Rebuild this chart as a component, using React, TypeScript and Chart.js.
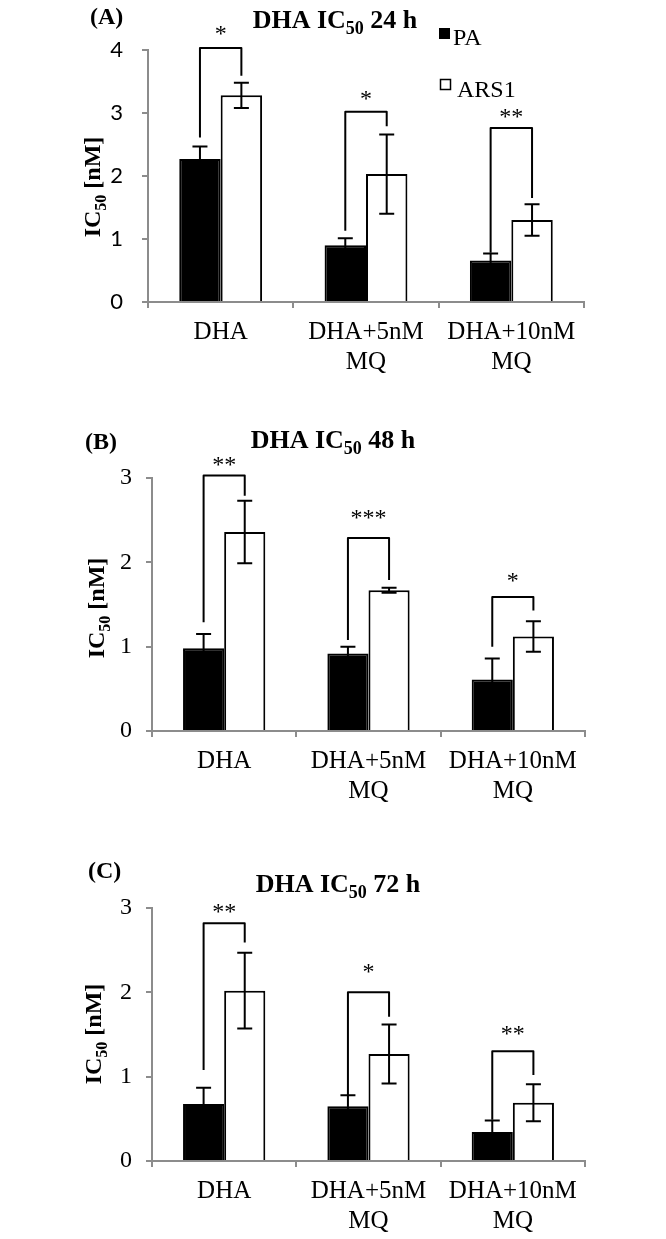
import React, { useEffect, useRef } from "react";
import { Chart, registerables } from "chart.js";
Chart.register(...registerables);

// ---------- data ----------
const CATEGORIES: (string | string[])[] = ["DHA", ["DHA+5nM", "MQ"], ["DHA+10nM", "MQ"]];
const SERIES_NAMES = ["PA", "ARS1"];

// Panel A — 24 h
const A_PA = [2.27, 0.9, 0.66];
const A_PA_ERR = [0.2, 0.11, 0.11];
const A_ARS1 = [3.28, 2.03, 1.3];
const A_ARS1_ERR = [0.2, 0.63, 0.25];
const A_BRACKET_TOP = [4.03, 3.02, 2.76];
const A_BRACKET_LEFT = [2.61, 1.13, 0.78];
const A_BRACKET_RIGHT = [3.59, 2.79, 1.65];
const A_STARS = ["*", "*", "**"];
const A_STAR_AT = [4.32, 3.29, 3.0];

// Panel B — 48 h
const B_PA = [0.98, 0.92, 0.61];
const B_PA_ERR = [0.17, 0.08, 0.25];
const B_ARS1 = [2.36, 1.67, 1.12];
const B_ARS1_ERR = [0.37, 0.03, 0.18];
const B_BRACKET_TOP = [3.03, 2.29, 1.59];
const B_BRACKET_LEFT = [1.29, 1.08, 1.0];
const B_BRACKET_RIGHT = [2.79, 1.79, 1.43];
const B_STARS = ["**", "***", "*"];
const B_STAR_AT = [3.2, 2.57, 1.83];

// Panel C — 72 h
const C_PA = [0.675, 0.65, 0.345];
const C_PA_ERR = [0.195, 0.13, 0.135];
const C_ARS1 = [2.02, 1.27, 0.69];
const C_ARS1_ERR = [0.45, 0.35, 0.22];
const C_BRACKET_TOP = [2.82, 2.0, 1.3];
const C_BRACKET_LEFT = [1.08, 0.77, 0.49];
const C_BRACKET_RIGHT = [2.59, 1.71, 1.02];
const C_STARS = ["**", "*", "**"];
const C_STAR_AT = [3.0, 2.29, 1.55];

const Y_MAX_A = 4;
const Y_MAX_BC = 3;

// ---------- layout / style ----------
const SERIF = '"Liberation Serif", "Times New Roman", serif';
const AXIS_GRAY = "#8c8c8c";

type PanelCfg = {
  letter: string;
  hours: string;
  top: number;
  height: number;
  area: { left: number; top: number; right: number; bottom: number };
  yMax: number;
  tickFont: { family: string; size: number };
  tickPad: number;
  letterPos: { x: number; base: number };
  titlePos: { cx: number; base: number };
  ylabelPos: { cx: number; cy: number };
  legend: boolean;
  pa: number[];
  paErr: number[];
  ars: number[];
  arsErr: number[];
  brTop: number[];
  brLeft: number[];
  brRight: number[];
  stars: string[];
  starAt: number[];
};

const PANELS: PanelCfg[] = [
  {
    letter: "(A)", hours: "24 h", top: 0, height: 385,
    area: { left: 148, top: 50, right: 584, bottom: 302 },
    yMax: Y_MAX_A, tickFont: { family: "Lato", size: 22 }, tickPad: 19,
    letterPos: { x: 90, base: 24 }, titlePos: { cx: 335, base: 28 }, ylabelPos: { cx: 92, cy: 187 },
    legend: true,
    pa: A_PA, paErr: A_PA_ERR, ars: A_ARS1, arsErr: A_ARS1_ERR,
    brTop: A_BRACKET_TOP, brLeft: A_BRACKET_LEFT, brRight: A_BRACKET_RIGHT, stars: A_STARS, starAt: A_STAR_AT,
  },
  {
    letter: "(B)", hours: "48 h", top: 420, height: 390,
    area: { left: 152, top: 58, right: 585, bottom: 311 },
    yMax: Y_MAX_BC, tickFont: { family: SERIF, size: 24 }, tickPad: 14,
    letterPos: { x: 85, base: 29 }, titlePos: { cx: 333, base: 28 }, ylabelPos: { cx: 96, cy: 188 },
    legend: false,
    pa: B_PA, paErr: B_PA_ERR, ars: B_ARS1, arsErr: B_ARS1_ERR,
    brTop: B_BRACKET_TOP, brLeft: B_BRACKET_LEFT, brRight: B_BRACKET_RIGHT, stars: B_STARS, starAt: B_STAR_AT,
  },
  {
    letter: "(C)", hours: "72 h", top: 850, height: 389,
    area: { left: 152, top: 58, right: 585, bottom: 311 },
    yMax: Y_MAX_BC, tickFont: { family: SERIF, size: 24 }, tickPad: 14,
    letterPos: { x: 88, base: 28 }, titlePos: { cx: 338, base: 42 }, ylabelPos: { cx: 93, cy: 184 },
    legend: false,
    pa: C_PA, paErr: C_PA_ERR, ars: C_ARS1, arsErr: C_ARS1_ERR,
    brTop: C_BRACKET_TOP, brLeft: C_BRACKET_LEFT, brRight: C_BRACKET_RIGHT, stars: C_STARS, starAt: C_STAR_AT,
  },
];

function drawRich(ctx: CanvasRenderingContext2D, parts: [string, boolean][], cx: number, base: number, size: number, bold: boolean) {
  const main = `${bold ? "bold " : ""}${size}px ${SERIF}`;
  const subSize = Math.round(size * 0.68);
  const sub = `${bold ? "bold " : ""}${subSize}px ${SERIF}`;
  const widths = parts.map(([t, s]) => {
    ctx.font = s ? sub : main;
    return ctx.measureText(t).width;
  });
  const total = widths.reduce((a, b) => a + b, 0);
  let x = cx - total / 2;
  ctx.textAlign = "left";
  ctx.textBaseline = "alphabetic";
  parts.forEach(([t, s], i) => {
    ctx.font = s ? sub : main;
    ctx.fillText(t, x, base + (s ? size * 0.24 : 0));
    x += widths[i];
  });
}

function Panel({ cfg }: { cfg: PanelCfg }) {
  const ref = useRef<HTMLCanvasElement | null>(null);
  useEffect(() => {
    if (!ref.current) return;
    const W = 666;
    const H = cfg.height;
    const overlay = {
      id: "overlay",
      afterDatasetsDraw(chart: any) {
        const ctx: CanvasRenderingContext2D = chart.ctx;
        const ys = chart.scales.y;
        const m0 = chart.getDatasetMeta(0);
        const m1 = chart.getDatasetMeta(1);
        ctx.save();
        ctx.strokeStyle = "#000";
        ctx.lineWidth = 2;
        ctx.lineCap = "butt";
        const cap = 15;
        const series: [any, number[], number[]][] = [
          [m0, cfg.pa, cfg.paErr],
          [m1, cfg.ars, cfg.arsErr],
        ];
        series.forEach(([m, vals, errs]) => {
          vals.forEach((v, i) => {
            const bx = m.data[i].x;
            const yt = ys.getPixelForValue(v + errs[i]);
            const yb = ys.getPixelForValue(v - errs[i]);
            ctx.beginPath();
            ctx.moveTo(bx, yt);
            ctx.lineTo(bx, yb);
            ctx.moveTo(bx - cap / 2, yt);
            ctx.lineTo(bx + cap / 2, yt);
            ctx.moveTo(bx - cap / 2, yb);
            ctx.lineTo(bx + cap / 2, yb);
            ctx.stroke();
          });
        });
        // significance brackets
        ctx.lineJoin = "round";
        cfg.brTop.forEach((t, i) => {
          const xl = m0.data[i].x;
          const xr = m1.data[i].x;
          const yt = ys.getPixelForValue(t);
          ctx.beginPath();
          ctx.moveTo(xl, ys.getPixelForValue(cfg.brLeft[i]));
          ctx.lineTo(xl, yt);
          ctx.lineTo(xr, yt);
          ctx.lineTo(xr, ys.getPixelForValue(cfg.brRight[i]));
          ctx.stroke();
          ctx.fillStyle = "#000";
          ctx.font = `24px ${SERIF}`;
          ctx.textAlign = "center";
          ctx.textBaseline = "alphabetic";
          ctx.fillText(cfg.stars[i], (xl + xr) / 2, ys.getPixelForValue(cfg.starAt[i]) + 11);
        });
        ctx.restore();
      },
      afterDraw(chart: any) {
        const ctx: CanvasRenderingContext2D = chart.ctx;
        ctx.save();
        ctx.fillStyle = "#000";
        // panel letter
        ctx.font = `bold 24px ${SERIF}`;
        ctx.textAlign = "left";
        ctx.textBaseline = "alphabetic";
        ctx.fillText(cfg.letter, cfg.letterPos.x, cfg.letterPos.base);
        // title
        drawRich(ctx, [["DHA IC", false], ["50", true], [" " + cfg.hours, false]], cfg.titlePos.cx, cfg.titlePos.base, 26, true);
        // y-axis title
        ctx.save();
        ctx.translate(cfg.ylabelPos.cx, cfg.ylabelPos.cy);
        ctx.rotate(-Math.PI / 2);
        drawRich(ctx, [["IC", false], ["50", true], [" [nM]", false]], 0, 8, 24, true);
        ctx.restore();
        // legend
        if (cfg.legend) {
          ctx.fillStyle = "#000";
          ctx.fillRect(439, 28, 11, 11);
          ctx.strokeStyle = "#000";
          ctx.lineWidth = 1.5;
          ctx.strokeRect(440.5, 79.5, 10, 10);
          ctx.font = `24px ${SERIF}`;
          ctx.textAlign = "left";
          ctx.fillText(SERIES_NAMES[0], 453, 45);
          ctx.fillText(SERIES_NAMES[1], 457, 97);
        }
        ctx.restore();
      },
    };

    const chart = new Chart(ref.current, {
      type: "bar",
      data: {
        labels: CATEGORIES as any,
        datasets: [
          { label: SERIES_NAMES[0], data: cfg.pa, backgroundColor: "#000", borderColor: "#000", borderWidth: 2 },
          { label: SERIES_NAMES[1], data: cfg.ars, backgroundColor: "#fff", borderColor: "#000", borderWidth: 2 },
        ],
      },
      options: {
        responsive: false,
        animation: false,
        devicePixelRatio: 1,
        layout: {
          padding: { left: 0, top: cfg.area.top, right: W - cfg.area.right, bottom: 0 },
        },
        datasets: { bar: { categoryPercentage: 0.57, barPercentage: 1.0 } } as any,
        plugins: { legend: { display: false }, tooltip: { enabled: false }, title: { display: false } },
        scales: {
          x: {
            grid: { offset: true, drawOnChartArea: false, drawTicks: true, tickLength: 6, color: AXIS_GRAY, lineWidth: 2 },
            border: { display: true, color: AXIS_GRAY, width: 2 },
            ticks: {
              color: "#000",
              font: { family: SERIF, size: 25, lineHeight: 1.2 },
              padding: 9,
              autoSkip: false,
              maxRotation: 0,
              minRotation: 0,
            },
            afterFit: (s: any) => { s.height = H - cfg.area.bottom; },
          },
          y: {
            min: 0,
            max: cfg.yMax,
            grid: { drawOnChartArea: false, drawTicks: true, tickLength: 6, color: AXIS_GRAY, lineWidth: 2 },
            border: { display: true, color: AXIS_GRAY, width: 2 },
            ticks: { stepSize: 1, color: "#000", font: cfg.tickFont, padding: cfg.tickPad },
            afterFit: (s: any) => { s.width = cfg.area.left; },
          },
        },
      },
      plugins: [overlay],
    });
    return () => chart.destroy();
  }, [cfg]);
  return (
    <canvas
      ref={ref}
      width={666}
      height={cfg.height}
      style={{ position: "absolute", left: 0, top: cfg.top, width: 666, height: cfg.height, display: "block" }}
    />
  );
}

export default function App() {
  return (
    <div style={{ position: "absolute", left: 0, top: 0, width: 666, height: 1239, background: "#fff" }}>
      {PANELS.map((p) => (
        <Panel key={p.letter} cfg={p} />
      ))}
    </div>
  );
}
